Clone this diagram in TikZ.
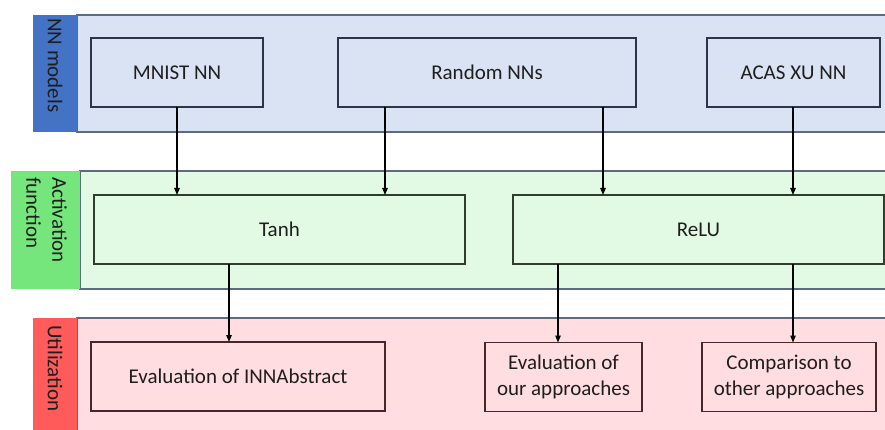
\documentclass[tikz,border=0pt]{standalone}
\usepackage{fontspec}
\setmainfont{Carlito}
\usetikzlibrary{arrows.meta}

\definecolor{blueLab}{HTML}{4472C4}
\definecolor{blueFill}{HTML}{DAE3F3}
\definecolor{greenLab}{HTML}{75E67B}
\definecolor{greenFill}{HTML}{E2F9E3}
\definecolor{redLab}{HTML}{FF5B5B}
\definecolor{redFill}{HTML}{FFDDE0}
\definecolor{bandEdge}{HTML}{5C6A85}
\definecolor{blueEdge}{HTML}{2B3547}
\definecolor{greenEdge}{HTML}{2E3D2E}
\definecolor{redEdge}{HTML}{4A2626}
\definecolor{ink}{HTML}{1E1E1E}

\begin{document}
\begin{tikzpicture}[x=1pt,y=-1pt,
  font=\fontsize{21}{26}\selectfont,
  band/.style={draw=bandEdge, line width=1.4pt, rectangle, inner sep=0pt, outer sep=0pt, anchor=north west},
  lab/.style={rectangle, inner sep=0pt, outer sep=0pt, anchor=north west},
  labtext/.style={rotate=-90, anchor=west, inner sep=0pt, text=ink},
  box/.style={rectangle, line width=1.2pt, inner sep=2pt, outer sep=0pt, text=ink, align=center, minimum height=69pt},
  arr/.style={line width=1.2pt, draw=black, -{Triangle[length=7pt,width=5.5pt]}}
]
\useasboundingbox (0,0) rectangle (885,430);
\clip (0,0) rectangle (885,430);

% --- bands ---
\node[band, fill=blueFill, minimum width=812pt, minimum height=117pt] (bandA) at (77,15) {};
\node[band, fill=greenFill, minimum width=809pt, minimum height=118pt] (bandB) at (80,171) {};
\node[band, fill=redFill, minimum width=812pt, minimum height=120pt] (bandC) at (77,318) {};

% --- side labels ---
\node[lab, fill=blueLab, minimum width=44pt, minimum height=117pt] (labA) at (33,15) {};
\node[lab, fill=greenLab, minimum width=69pt, minimum height=118pt] (labB) at (11,171) {};
\node[lab, fill=redLab, minimum width=44pt, minimum height=120pt] (labC) at (33,318) {};
\node[labtext] (tA) at (55,18) {NN models};
\node[labtext, align=left] (tB) at (46.5,177) {Activation\\function};
\node[labtext] (tC) at (55,325) {Utilization};

% --- NN models ---
\node[box, draw=blueEdge, fill=blueFill, minimum width=172pt] (mnist) at (177,72.5) {MNIST NN};
\node[box, draw=blueEdge, fill=blueFill, minimum width=298pt] (rnd) at (487,72.5) {Random NNs};
\node[box, draw=blueEdge, fill=blueFill, minimum width=173pt] (acas) at (793.5,72.5) {ACAS XU NN};

% --- activation functions ---
\node[box, draw=greenEdge, fill=greenFill, minimum width=371pt] (tanh) at (279.5,229.5) {Tanh};
\node[box, draw=greenEdge, fill=greenFill, minimum width=371pt] (relu) at (698.5,229.5) {ReLU};

% --- utilization ---
\node[box, draw=redEdge, fill=redFill, minimum width=294pt] (evinn) at (238,376.5) {Evaluation of INNAbstract};
\node[box, draw=redEdge, fill=redFill, minimum width=157pt] (evour) at (563.5,377) {Evaluation of\\our approaches};
\node[box, draw=redEdge, fill=redFill, minimum width=174pt] (comp) at (789,377) {Comparison to\\other approaches};

% --- connector columns ---
\coordinate (c1) at (177,0);
\coordinate (c2) at (385,0);
\coordinate (c3) at (603,0);
\coordinate (c4) at (793,0);
\coordinate (c5) at (229,0);
\coordinate (c6) at (558,0);

\draw[arr] (mnist.south -| c1) -- (tanh.north -| c1);
\draw[arr] (rnd.south -| c2) -- (tanh.north -| c2);
\draw[arr] (rnd.south -| c3) -- (relu.north -| c3);
\draw[arr] (acas.south -| c4) -- (relu.north -| c4);
\draw[arr] (tanh.south -| c5) -- (evinn.north -| c5);
\draw[arr] (relu.south -| c6) -- (evour.north -| c6);
\draw[arr] (relu.south -| c4) -- (comp.north -| c4);
\end{tikzpicture}
\end{document}
